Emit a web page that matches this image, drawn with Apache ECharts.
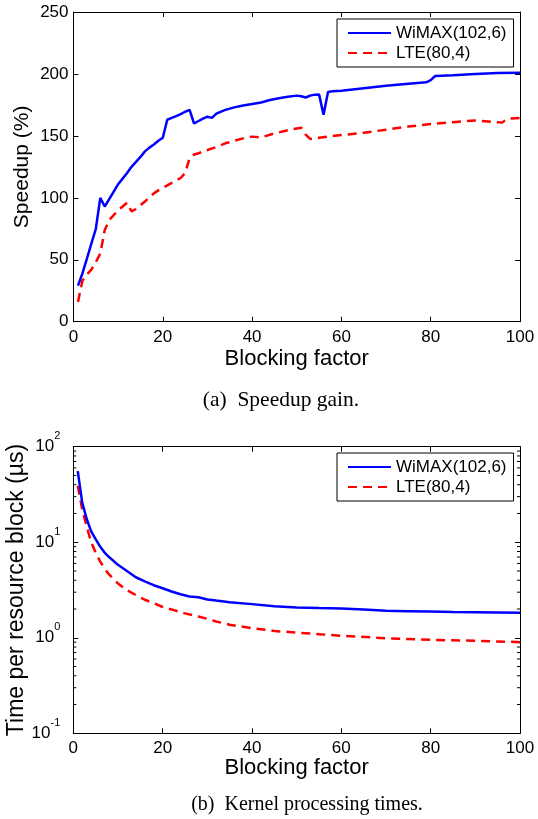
<!DOCTYPE html>
<html><head><meta charset="utf-8">
<script src="https://cdn.jsdelivr.net/npm/echarts@6/dist/echarts.min.js"></script>
<style>html,body{margin:0;padding:0;background:#fff}#c{width:538px;height:819px}</style>
</head><body><div id="c"></div>
<script>
// ---- data ----
const seriesNames = ['WiMAX(102,6)', 'LTE(80,4)'];

// (a) Speedup gain (%)
const speedupWimaxX = [1,2,3,4,5,6,7,8,9,10,11,12,13,14,15,16,17,18,19,20,21,22,23,24,25,26,27,28,29,30,31,32,34,36,38,40,42,44,46,48,50,51,52,53,54,55,56,57,58,60,65,70,75,79,80,81,85,90,95,100];
const speedupWimaxY = [29,39,51,63,75,100,93,99,105,111,115.5,120,125,129,133,137.5,140.5,143,146,148.5,163,164.5,166,167.5,169.5,171,160,162,164,165.5,164.5,168,171,173,174.5,175.7,177,179,180.3,181.6,182.5,182,181,182.5,183.3,183.5,167,185.5,186,186.5,188.5,190.5,192,193.2,195,198.3,199,200,200.7,201];
const speedupLteX = [1,2,3,4,5,6,7,8,9,10,11,12,13,14,15,16,17,18,19,20,21,22,23,24,25,26,27,28,30,32,34,36,38,40,42,45,48,50,51,52,53,55,60,65,70,75,80,85,90,95,96,97,98,100];
const speedupLteY = [16,33,38,42,48,55,74,82,86,90,93,96,89,91,94,97,100.5,103.6,106,108,110,112,114,116,120,132,135,136,138.6,141,144,146,148,149.4,148.8,152,154.5,156,156.6,151,147.5,148.5,150.7,152.5,155,157.5,159.6,161,162.5,161,160.7,163.5,164,164.5];

// (b) Kernel processing times (us)
const timeWimaxX = [1,2,3,4,5,6,7,8,10,12,14,16,18,20,22,24,26,28,30,32,35,40,45,50,55,60,65,70,75,80,85,90,95,100];
const timeWimaxY = [55.6,26,17.5,13,10.8,9,7.8,7,5.8,5,4.3,3.9,3.55,3.3,3.05,2.85,2.7,2.65,2.52,2.45,2.36,2.25,2.14,2.08,2.05,2.03,1.98,1.92,1.9,1.88,1.86,1.85,1.84,1.83];
const timeLteX = [1,2,3,4,5,6,7,8,10,12,14,16,18,20,22,25,28,30,32,35,40,45,50,55,60,70,80,90,100];
const timeLteY = [39,22,14.6,10,7.8,6.3,5.3,4.6,3.7,3.15,2.8,2.5,2.3,2.1,1.98,1.8,1.67,1.58,1.48,1.37,1.26,1.18,1.13,1.09,1.05,0.99,0.95,0.93,0.90];

// axis tick settings
const xTicks = {min: 0, max: 100, interval: 20};
const speedupTicks = {min: 0, max: 250, interval: 50};
const timeTicks = {min: 0.1, max: 100};
const minorMantissas = [2,3,4,5,6,7,8,9];
const minorDecades = [0.1, 1, 10];

const SANS = '"Liberation Sans", Arial, Helvetica, sans-serif';
const SERIF = '"Liberation Serif", "Times New Roman", serif';
const BLUE = '#0000ff', RED = '#ff0000';

const pairs = (xs, ys) => xs.map((x, i) => [x, ys[i]]);
const minorVals = [];
minorDecades.forEach(d => minorMantissas.forEach(m => minorVals.push([0, +(m * d).toPrecision(3)])));

const lbl = {color: '#000', fontFamily: SANS, fontSize: 17};
const axLine = {show: true, onZero: false, lineStyle: {color: '#000', width: 1}};
const tick = {show: true, inside: true, length: 5, lineStyle: {color: '#000', width: 1}};

function xAxis(grid, position, main, nameGap) {
  const a = {
    type: 'value', gridIndex: grid, position: position,
    min: xTicks.min, max: xTicks.max, interval: xTicks.interval,
    axisLine: axLine, axisTick: tick, splitLine: {show: false},
    axisLabel: main ? Object.assign({margin: 7}, lbl) : {show: false}
  };
  if (main) {
    a.name = 'Blocking factor';
    a.nameLocation = 'middle';
    a.nameGap = nameGap;
    a.nameMoveOverlap = false;
    a.nameTextStyle = {color: '#000', fontFamily: SANS, fontSize: 22};
  }
  return a;
}

const supDigits = v => String(Math.round(Math.log10(v)));

const legendBase = {
  data: seriesNames, orient: 'vertical', left: 337,
  padding: [4, 7, 4, 10], itemGap: 0, itemWidth: 43, itemHeight: 14,
  backgroundColor: '#fff', borderColor: '#000', borderWidth: 1, borderRadius: 0,
  itemStyle: {opacity: 0},
  textStyle: {color: '#000', fontFamily: SANS, fontSize: 17, lineHeight: 20},
  selectedMode: false
};

const option = {
  animation: false,
  backgroundColor: '#fff',
  grid: [
    {left: 73.5, right: 18, top: 12, height: 309.7, containLabel: false, outerBoundsMode: 'none'},
    {left: 73.3, right: 18, top: 446.7, height: 286.6, containLabel: false, outerBoundsMode: 'none'}
  ],
  legend: [
    Object.assign({top: 19}, legendBase),
    Object.assign({top: 453}, legendBase)
  ],
  xAxis: [
    xAxis(0, 'bottom', true, 26),
    xAxis(0, 'top', false),
    xAxis(1, 'bottom', true, 24),
    xAxis(1, 'top', false)
  ],
  yAxis: [
    {
      type: 'value', gridIndex: 0, position: 'left',
      min: speedupTicks.min, max: speedupTicks.max, interval: speedupTicks.interval,
      axisLine: axLine, axisTick: tick, splitLine: {show: false},
      axisLabel: Object.assign({margin: 5}, lbl),
      name: 'Speedup (%)', nameLocation: 'middle', nameGap: 41, nameMoveOverlap: false,
      nameTextStyle: {color: '#000', fontFamily: SANS, fontSize: 21}
    },
    {
      type: 'value', gridIndex: 0, position: 'right',
      min: speedupTicks.min, max: speedupTicks.max, interval: speedupTicks.interval,
      axisLine: axLine, axisTick: tick, splitLine: {show: false}, axisLabel: {show: false}
    },
    {
      type: 'log', logBase: 10, gridIndex: 1, position: 'left',
      min: timeTicks.min, max: timeTicks.max,
      axisLine: axLine, axisTick: tick, splitLine: {show: false},
      axisLabel: {
        margin: 13,
        formatter: v => '{b|10}{s|' + supDigits(v) + '}',
        rich: {
          b: {color: '#000', fontFamily: SANS, fontSize: 17, lineHeight: 32},
          s: {color: '#000', fontFamily: SANS, fontSize: 11, lineHeight: 13, verticalAlign: 'top'}
        }
      },
      name: 'Time per resource block (\u00b5s)', nameLocation: 'middle', nameGap: 45, nameMoveOverlap: false,
      nameTextStyle: {color: '#000', fontFamily: SANS, fontSize: 23}
    },
    {
      type: 'log', logBase: 10, gridIndex: 1, position: 'right',
      min: timeTicks.min, max: timeTicks.max,
      axisLine: axLine, axisTick: tick, splitLine: {show: false}, axisLabel: {show: false}
    }
  ],
  series: [
    {name: seriesNames[0], type: 'line', xAxisIndex: 0, yAxisIndex: 0, data: pairs(speedupWimaxX, speedupWimaxY),
     symbol: 'none', lineStyle: {color: BLUE, width: 2.5}, itemStyle: {color: BLUE}, z: 3},
    {name: seriesNames[1], type: 'line', xAxisIndex: 0, yAxisIndex: 0, data: pairs(speedupLteX, speedupLteY),
     symbol: 'none', lineStyle: {color: RED, width: 2.5, type: [9, 6]}, itemStyle: {color: RED}, z: 2},
    {name: seriesNames[0], type: 'line', xAxisIndex: 2, yAxisIndex: 2, data: pairs(timeWimaxX, timeWimaxY),
     symbol: 'none', lineStyle: {color: BLUE, width: 2.5}, itemStyle: {color: BLUE}, z: 3},
    {name: seriesNames[1], type: 'line', xAxisIndex: 2, yAxisIndex: 2, data: pairs(timeLteX, timeLteY),
     symbol: 'none', lineStyle: {color: RED, width: 2.5, type: [9, 6]}, itemStyle: {color: RED}, z: 2},
    {
      name: 'minorTicks', type: 'custom', xAxisIndex: 2, yAxisIndex: 2, silent: true, clip: false,
      data: minorVals, encode: {x: 0, y: 1},
      renderItem: function (params, api) {
        const cs = params.coordSys;
        const y = api.coord([0, api.value(1)])[1];
        return {type: 'group', children: [
          {type: 'line', shape: {x1: cs.x, y1: y, x2: cs.x + 3, y2: y}, style: {stroke: '#000', lineWidth: 1}},
          {type: 'line', shape: {x1: cs.x + cs.width - 3, y1: y, x2: cs.x + cs.width, y2: y}, style: {stroke: '#000', lineWidth: 1}}
        ]};
      }
    }
  ],
  graphic: [
    {type: 'text', x: 281, y: 400, style: {text: '(a)\u2002Speedup gain.', font: '21.5px ' + SERIF, fill: '#000', textAlign: 'center', textVerticalAlign: 'middle'}},
    {type: 'text', x: 307, y: 805, style: {text: '(b)\u2002Kernel processing times.', font: '20px ' + SERIF, fill: '#000', textAlign: 'center', textVerticalAlign: 'middle'}}
  ]
};

const chart = echarts.init(document.getElementById('c'), null, {renderer: 'canvas'});
chart.setOption(option);
</script>
</body></html>
